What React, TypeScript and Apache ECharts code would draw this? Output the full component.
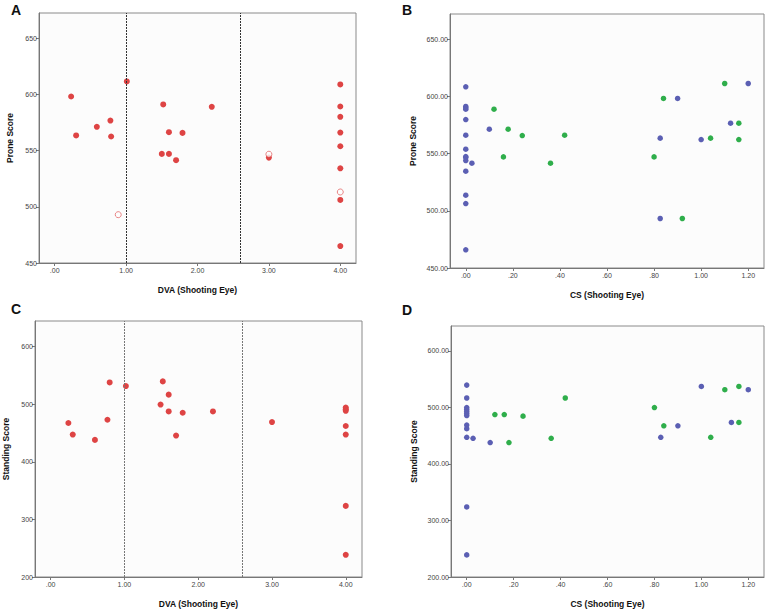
import React, { useEffect, useRef } from "react";
import * as echarts from "echarts";

// Panel A: Prone score vs DVA (filled = normal, open = outlier)
const proneDvaFilled: [number, number][] = [
  [0.23, 598.2], [0.30, 563.5], [0.59, 571.2], [0.78, 576.8], [0.79, 562.6],
  [1.01, 611.6], [1.52, 591.1], [1.50, 547.1], [1.60, 547.1], [1.60, 566.4],
  [1.70, 541.5], [1.79, 565.8], [2.20, 589.0], [3.00, 543.8],
  [4.00, 608.9], [4.00, 589.3], [4.00, 580.1], [4.00, 566.1], [4.00, 553.9],
  [4.00, 534.3], [4.00, 506.1], [4.00, 465.1],
];
const proneDvaOpen: [number, number][] = [
  [0.89, 493.0], [3.00, 546.8], [4.00, 513.2],
];

// Panel B: Prone score vs CS
const proneCsBlue: [number, number][] = [
  [0, 608.5], [0, 591.3], [0, 590.1], [0, 588.9], [0, 579.9], [0, 566.2],
  [0, 553.9], [0, 547.5], [0, 546.6], [0, 544.0], [0, 534.7], [0, 513.7],
  [0, 506.4], [0, 465.9], [0.026, 541.7], [0.10, 571.4], [0.826, 563.6],
  [0.826, 493.3], [0.90, 598.3], [1.00, 562.4], [1.125, 576.7], [1.20, 611.4],
];
const proneCsGreen: [number, number][] = [
  [0.12, 588.9], [0.16, 547.2], [0.18, 571.4], [0.24, 565.9], [0.36, 541.7],
  [0.42, 566.2], [0.80, 547.2], [0.84, 598.3], [0.92, 493.3], [1.04, 563.6],
  [1.10, 611.4], [1.16, 576.7], [1.16, 562.4],
];

// Panel C: Standing score vs DVA
const standDva: [number, number][] = [
  [0.24, 467.5], [0.30, 447.4], [0.60, 438.2], [0.77, 473.2], [0.80, 538.0],
  [1.02, 531.7], [1.52, 539.8], [1.49, 499.6], [1.60, 516.8], [1.60, 487.6],
  [1.70, 445.7], [1.79, 485.3], [2.20, 487.6], [3.00, 469.2],
  [4.00, 494.4], [4.00, 491.6], [4.00, 488.7], [4.00, 462.3], [4.00, 447.4],
  [4.00, 323.5], [4.00, 238.6],
];

// Panel D: Standing score vs CS
const standCsBlue: [number, number][] = [
  [0, 539.3], [0, 516.5], [0, 499.6], [0, 496.1], [0, 492.6], [0, 489.0],
  [0, 485.5], [0, 468.6], [0, 462.2], [0, 447.0], [0, 323.8], [0, 239.1],
  [0.027, 445.3], [0.10, 437.7], [0.827, 447.0], [0.90, 467.4], [1.00, 536.9],
  [1.128, 473.3], [1.20, 531.1],
];
const standCsGreen: [number, number][] = [
  [0.12, 487.3], [0.16, 487.3], [0.18, 437.7], [0.24, 484.4], [0.36, 445.3],
  [0.42, 516.5], [0.80, 499.6], [0.84, 467.4], [1.04, 447.0], [1.10, 531.1],
  [1.16, 536.9], [1.16, 473.3],
];

const dvaTicks = [0, 1, 2, 3, 4];
const csTicks = [0, 0.2, 0.4, 0.6, 0.8, 1.0, 1.2];
const proneTicks = [450, 500, 550, 600, 650];
const standTicks = [200, 300, 400, 500, 600];
const cutoffs = [1.0, 2.6];
const panelLetters = ["A", "B", "C", "D"];

const FONT = "'Liberation Sans', Arial, sans-serif";
const RED = "#de4444";
const BLUE = "#5b5fb3";
const GREEN = "#2fae4b";

const fmtX = (v: number) => {
  const s = v.toFixed(2);
  return s.startsWith("0") ? s.slice(1) : s;
};

export default function App() {
  const ref = useRef<HTMLDivElement>(null);
  useEffect(() => {
    if (!ref.current) return;
    const chart = echarts.init(ref.current, null, { renderer: "svg" });

    const grids = [
      { left: 39, top: 13, width: 317, height: 250 },
      { left: 450, top: 14, width: 314, height: 254 },
      { left: 34, top: 321, width: 328, height: 258 },
      { left: 451, top: 326, width: 313, height: 253 },
    ].map((g) => ({
      ...g,
      show: true,
      backgroundColor: "#fcfcfc",
      borderColor: "#8a8a8a",
      borderWidth: 1,
    }));

    const mkX = (idx: number, min: number, max: number, ticks: number[], name: string) => ({
      type: "value",
      gridIndex: idx,
      min,
      max,
      name,
      nameLocation: "middle",
      nameGap: 22,
      nameTextStyle: { fontFamily: FONT, fontWeight: "bold", fontSize: 8.5, color: "#111" },
      axisLine: { show: true, onZero: false, lineStyle: { color: "#777" } },
      axisTick: { show: true, length: 3, customValues: ticks, lineStyle: { color: "#777" } },
      axisLabel: {
        customValues: ticks,
        formatter: fmtX,
        fontFamily: FONT,
        fontSize: 7,
        color: "#444",
        margin: 4,
      },
      splitLine: { show: false },
    });

    const mkY = (
      idx: number,
      min: number,
      max: number,
      ticks: number[],
      name: string,
      decimals: boolean,
      gap: number
    ) => ({
      type: "value",
      gridIndex: idx,
      min,
      max,
      name,
      nameLocation: "middle",
      nameGap: gap,
      nameTextStyle: { fontFamily: FONT, fontWeight: "bold", fontSize: 8.5, color: "#111" },
      axisLine: { show: true, onZero: false, lineStyle: { color: "#777" } },
      axisTick: { show: true, length: 3, customValues: ticks, lineStyle: { color: "#777" } },
      axisLabel: {
        customValues: ticks,
        formatter: (v: number) => (decimals ? v.toFixed(2) : String(Math.round(v))),
        fontFamily: FONT,
        fontSize: 7,
        color: "#444",
        margin: 2,
      },
      splitLine: { show: false },
    });

    const cutLines = (color: string) => ({
      silent: true,
      symbol: ["none", "none"],
      label: { show: false },
      lineStyle: { color, type: [2, 1], width: 1 },
      data: cutoffs.map((c) => ({ xAxis: c })),
    });

    const scatter = (
      xi: number,
      data: [number, number][],
      color: string,
      size: number,
      open = false,
      extra: any = {}
    ) => ({
      type: "scatter",
      xAxisIndex: xi,
      yAxisIndex: xi,
      data,
      symbol: "circle",
      symbolSize: size,
      itemStyle: open
        ? { color: "#fcfcfc", borderColor: RED, borderWidth: 0.8 }
        : { color, opacity: 1 },
      ...extra,
    });

    const letterPos = [
      [11, 3],
      [402, 3],
      [11, 302],
      [402, 303],
    ];

    chart.setOption({
      animation: false,
      grid: grids,
      xAxis: [
        mkX(0, -0.22, 4.22, dvaTicks, "DVA (Shooting Eye)"),
        mkX(1, -0.067, 1.267, csTicks, "CS (Shooting Eye)"),
        mkX(2, -0.212, 4.22, dvaTicks, "DVA (Shooting Eye)"),
        mkX(3, -0.067, 1.267, csTicks, "CS (Shooting Eye)"),
      ],
      yAxis: [
        mkY(0, 450, 672.5, proneTicks, "Prone Score", false, 25),
        mkY(1, 450, 672.2, proneTicks, "Prone Score", true, 33),
        mkY(2, 200, 644.7, standTicks, "Standing Score", false, 25),
        mkY(3, 200, 643.8, standTicks, "Standing Score", true, 33),
      ],
      series: [
        scatter(0, proneDvaFilled, RED, 6, false, { markLine: cutLines("#333") }),
        scatter(0, proneDvaOpen, RED, 6, true),
        scatter(1, proneCsBlue, BLUE, 5.5),
        scatter(1, proneCsGreen, GREEN, 5.5),
        scatter(2, standDva, RED, 6, false, { markLine: cutLines("#777") }),
        scatter(3, standCsBlue, BLUE, 5.5),
        scatter(3, standCsGreen, GREEN, 5.5),
      ],
      graphic: panelLetters.map((t, i) => ({
        type: "text",
        left: letterPos[i][0],
        top: letterPos[i][1],
        style: {
          text: t,
          fontFamily: FONT,
          fontWeight: "bold",
          fontSize: 14,
          fill: "#111",
        },
      })),
    });
    return () => chart.dispose();
  }, []);

  return (
    <div
      ref={ref}
      style={{ position: "absolute", left: 0, top: 0, width: 767, height: 609, background: "#fff" }}
    />
  );
}
